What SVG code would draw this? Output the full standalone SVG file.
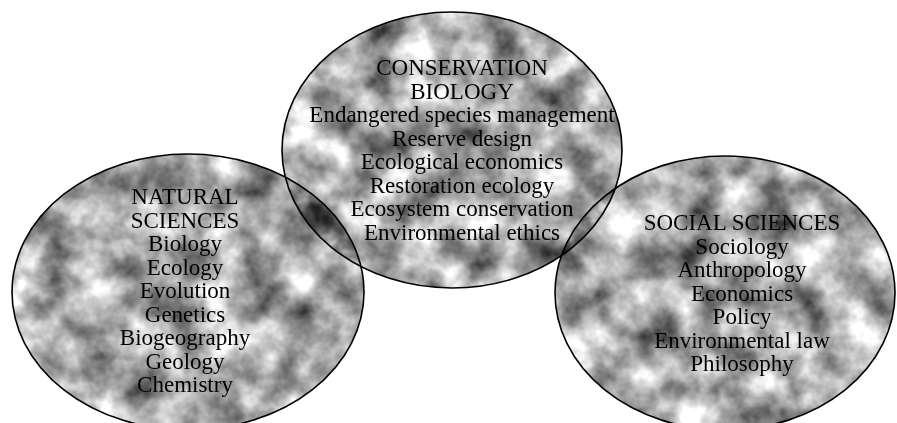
<svg xmlns="http://www.w3.org/2000/svg" width="897" height="423" viewBox="0 0 897 423">
  <style>
    .fill { fill: #000; filter: url(#tex); mix-blend-mode: multiply; }
    .outline { fill: none; stroke: #000; stroke-width: 1.6; }
    .label { font-family: "Liberation Serif", "Times New Roman", serif; font-size: 23px; fill: #000; text-anchor: middle; }
  </style>
  <defs>
    <filter id="tex" x="0" y="0" width="100%" height="100%" color-interpolation-filters="sRGB">
      <feTurbulence type="fractalNoise" baseFrequency="0.025" numOctaves="4" seed="7" result="n"/>
      <feColorMatrix in="n" type="matrix" values="1.3 0 0 0 0.02  1.3 0 0 0 0.02  1.3 0 0 0 0.02  0 0 0 0 1" result="g"/>
      <feComposite in="g" in2="SourceGraphic" operator="in"/>
    </filter>
  </defs>
  <rect width="897" height="423" fill="#fff"/>
  <g id="nodes">
    <g id="natural-sciences">
      <ellipse class="fill" cx="188" cy="292" rx="176" ry="138"/>
      <ellipse class="outline" cx="188" cy="292" rx="176" ry="138"/>
      <text class="label" x="185" y="204">NATURAL</text>
      <text class="label" x="185" y="227.5">SCIENCES</text>
      <text class="label" x="185" y="251">Biology</text>
      <text class="label" x="185" y="274.5">Ecology</text>
      <text class="label" x="185" y="298">Evolution</text>
      <text class="label" x="185" y="321.5">Genetics</text>
      <text class="label" x="185" y="345">Biogeography</text>
      <text class="label" x="185" y="368.5">Geology</text>
      <text class="label" x="185" y="392">Chemistry</text>
    </g>
    <g id="social-sciences">
      <ellipse class="fill" cx="725" cy="293" rx="170" ry="137"/>
      <ellipse class="outline" cx="725" cy="293" rx="170" ry="137"/>
      <text class="label" x="742" y="230">SOCIAL SCIENCES</text>
      <text class="label" x="742" y="253.5">Sociology</text>
      <text class="label" x="742" y="277">Anthropology</text>
      <text class="label" x="742" y="300.5">Economics</text>
      <text class="label" x="742" y="324">Policy</text>
      <text class="label" x="742" y="347.5">Environmental law</text>
      <text class="label" x="742" y="371">Philosophy</text>
    </g>
    <g id="conservation-biology">
      <ellipse class="fill" cx="452" cy="150" rx="170" ry="138"/>
      <ellipse class="outline" cx="452" cy="150" rx="170" ry="138"/>
      <text class="label" x="462" y="75">CONSERVATION</text>
      <text class="label" x="462" y="98.5">BIOLOGY</text>
      <text class="label" x="462" y="122">Endangered species management</text>
      <text class="label" x="462" y="145.5">Reserve design</text>
      <text class="label" x="462" y="169">Ecological economics</text>
      <text class="label" x="462" y="192.5">Restoration ecology</text>
      <text class="label" x="462" y="216">Ecosystem conservation</text>
      <text class="label" x="462" y="239.5">Environmental ethics</text>
    </g>
  </g>
</svg>
